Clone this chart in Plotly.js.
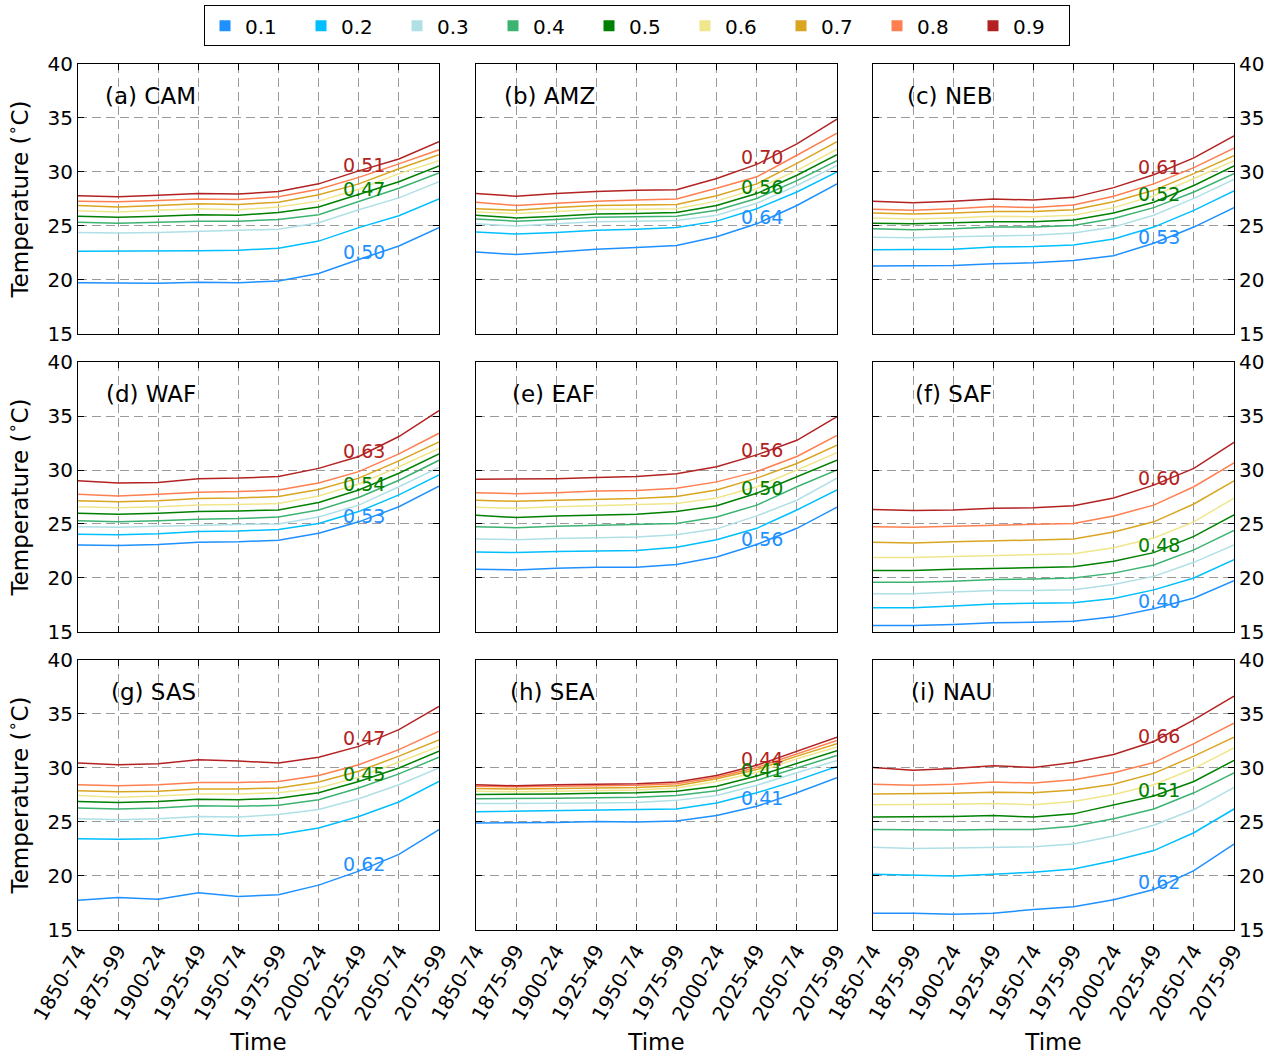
<!DOCTYPE html>
<html>
<head>
<meta charset="utf-8">
<script src="https://cdn.plot.ly/plotly-3.0.1.min.js"></script>
<style>html,body{margin:0;padding:0;background:#fff}#chart{width:1274px;height:1057px}</style>
</head>
<body>
<div id="chart"></div>
<script>
const categories = ['1850-74','1875-99','1900-24','1925-49','1950-74','1975-99','2000-24','2025-49','2050-74','2075-99'];
const quantiles = ['0.1','0.2','0.3','0.4','0.5','0.6','0.7','0.8','0.9'];
const colors = ['#1E90FF','#00BFFF','#B0E0E6','#3CB371','#008000','#F0E68C','#DAA520','#FF7F50','#B22222'];
const regions = ['CAM','AMZ','NEB','WAF','EAF','SAF','SAS','SEA','NAU'];
const panelTitles = ['(a) CAM','(b) AMZ','(c) NEB','(d) WAF','(e) EAF','(f) SAF','(g) SAS','(h) SEA','(i) NAU'];

// rows: quantile 0.1 ... 0.9
const CAM = [
  [19.75,19.75,19.7,19.8,19.75,19.9,20.6,21.9,23.15,24.85],
  [22.65,22.65,22.65,22.7,22.75,22.95,23.6,24.85,25.95,27.5],
  [24.4,24.35,24.4,24.5,24.55,24.7,25.3,26.5,27.6,29.1],
  [25.35,25.25,25.35,25.45,25.45,25.6,26.05,27.25,28.5,29.9],
  [25.9,25.8,25.9,26.05,26.0,26.25,26.75,27.9,29.1,30.55],
  [26.4,26.3,26.45,26.6,26.5,26.75,27.3,28.4,29.85,31.05],
  [26.9,26.75,26.9,27.05,27.0,27.2,27.9,28.9,30.3,31.6],
  [27.3,27.25,27.35,27.5,27.45,27.7,28.4,29.5,30.75,32.05],
  [27.8,27.7,27.85,28.0,27.95,28.2,28.9,30.1,31.2,32.8]
];
const AMZ = [
  [22.6,22.35,22.6,22.85,23.0,23.2,24.0,25.2,26.9,28.9],
  [24.45,24.25,24.4,24.6,24.7,24.85,25.45,26.6,28.15,30.0],
  [25.2,25.0,25.2,25.4,25.45,25.5,26.0,27.1,28.75,30.6],
  [25.65,25.45,25.6,25.8,25.85,25.9,26.45,27.55,29.2,31.05],
  [26.0,25.75,25.9,26.1,26.15,26.25,26.9,28.0,29.7,31.6],
  [26.3,26.15,26.35,26.55,26.55,26.6,27.3,28.45,30.15,32.1],
  [26.6,26.45,26.7,26.9,26.95,27.0,27.8,28.9,30.8,32.8],
  [27.2,26.9,27.1,27.3,27.4,27.5,28.5,29.55,31.55,33.6],
  [28.0,27.75,28.0,28.2,28.3,28.35,29.4,30.7,32.6,34.9]
];
const NEB = [
  [21.3,21.3,21.35,21.5,21.6,21.8,22.25,23.4,24.9,26.7],
  [22.8,22.8,22.85,23.05,23.1,23.25,23.8,24.9,26.45,28.25],
  [23.95,23.9,24.0,24.1,24.15,24.35,24.9,26.0,27.55,29.3],
  [24.75,24.65,24.75,24.9,24.9,25.05,25.7,26.7,28.15,29.85],
  [25.25,25.2,25.3,25.4,25.4,25.55,26.2,27.2,28.75,30.55],
  [25.75,25.65,25.75,25.9,25.85,26.0,26.7,27.8,29.4,31.05],
  [26.2,26.1,26.2,26.35,26.35,26.5,27.25,28.3,29.85,31.5],
  [26.55,26.45,26.6,26.8,26.7,26.95,27.75,28.9,30.4,32.2],
  [27.3,27.15,27.3,27.5,27.4,27.65,28.55,29.75,31.3,33.35]
];
const WAF = [
  [23.05,23.0,23.1,23.3,23.35,23.5,24.15,25.2,26.6,28.5],
  [24.05,24.0,24.1,24.3,24.35,24.5,25.05,26.15,27.7,29.55],
  [24.75,24.7,24.8,24.9,24.95,25.0,25.65,26.75,28.45,30.25],
  [25.3,25.2,25.3,25.45,25.5,25.65,26.3,27.45,29.05,30.9],
  [26.0,25.9,26.0,26.15,26.2,26.3,27.0,28.15,29.7,31.5],
  [26.6,26.5,26.6,26.75,26.8,26.9,27.6,28.7,30.3,32.0],
  [27.15,27.05,27.15,27.35,27.4,27.55,28.2,29.25,30.85,32.6],
  [27.75,27.6,27.75,27.95,28.0,28.15,28.8,29.85,31.5,33.4],
  [29.0,28.8,28.85,29.2,29.25,29.4,30.15,31.25,33.1,35.5]
];
const EAF = [
  [20.8,20.75,20.9,21.0,21.0,21.25,21.95,23.1,24.6,26.55],
  [22.4,22.35,22.45,22.5,22.55,22.85,23.55,24.6,26.3,28.15],
  [23.6,23.55,23.65,23.75,23.8,24.0,24.55,25.75,27.2,29.25],
  [24.75,24.65,24.8,24.9,24.95,25.05,25.65,26.75,28.45,30.0],
  [25.8,25.6,25.75,25.85,25.9,26.15,26.7,27.85,29.4,30.9],
  [26.55,26.45,26.6,26.7,26.75,26.9,27.4,28.45,30.0,31.6],
  [27.2,27.1,27.2,27.3,27.35,27.55,28.15,29.25,30.6,32.3],
  [27.9,27.8,27.9,28.05,28.1,28.3,28.9,29.85,31.25,33.2],
  [29.15,29.15,29.2,29.3,29.4,29.65,30.3,31.4,32.75,34.95]
];
const SAF = [
  [15.6,15.6,15.7,15.85,15.9,16.0,16.4,17.15,18.15,19.75],
  [17.25,17.25,17.4,17.6,17.65,17.7,18.1,18.9,20.0,21.7],
  [18.55,18.55,18.7,18.85,18.85,18.9,19.4,20.15,21.45,23.05],
  [19.6,19.6,19.7,19.85,19.9,20.0,20.45,21.2,22.6,24.4],
  [20.7,20.7,20.8,20.9,21.0,21.05,21.55,22.35,23.85,25.85],
  [21.9,21.9,22.0,22.1,22.2,22.25,22.8,23.7,25.2,27.4],
  [23.3,23.25,23.35,23.45,23.5,23.6,24.25,25.2,26.85,29.0],
  [24.75,24.7,24.8,24.9,24.95,25.05,25.75,26.75,28.45,30.65],
  [26.35,26.25,26.3,26.45,26.5,26.7,27.4,28.6,30.15,32.55]
];
const SAS = [
  [17.75,18.0,17.85,18.45,18.1,18.25,19.15,20.45,22.0,24.3],
  [23.45,23.4,23.45,23.9,23.7,23.85,24.45,25.5,26.85,28.75],
  [25.3,25.2,25.3,25.5,25.45,25.7,26.15,27.15,28.45,30.0],
  [26.3,26.2,26.3,26.5,26.45,26.55,27.05,28.15,29.45,31.0],
  [26.9,26.8,26.9,27.1,27.05,27.2,27.7,28.75,30.0,31.55],
  [27.45,27.3,27.4,27.6,27.6,27.7,28.15,29.15,30.55,32.0],
  [27.9,27.8,27.85,28.05,28.05,28.15,28.7,29.7,31.1,32.6],
  [28.45,28.35,28.45,28.65,28.65,28.75,29.3,30.3,31.7,33.4],
  [30.45,30.3,30.4,30.75,30.65,30.45,31.0,32.0,33.55,35.7]
];
const SEA = [
  [24.9,24.9,24.95,25.05,25.0,25.1,25.6,26.45,27.7,29.1],
  [25.95,26.0,26.05,26.1,26.1,26.2,26.75,27.7,28.85,30.15],
  [26.7,26.7,26.75,26.75,26.8,27.0,27.45,28.4,29.55,30.7],
  [27.15,27.15,27.2,27.25,27.3,27.45,27.9,28.85,30.0,31.15],
  [27.55,27.55,27.6,27.65,27.7,27.85,28.3,29.25,30.45,31.6],
  [27.85,27.8,27.85,27.9,27.95,28.15,28.75,29.6,30.85,31.95],
  [28.1,28.05,28.1,28.15,28.2,28.35,29.0,29.85,31.1,32.25],
  [28.3,28.25,28.3,28.35,28.4,28.55,29.15,30.05,31.3,32.55],
  [28.45,28.35,28.45,28.5,28.55,28.7,29.3,30.25,31.55,32.85]
];
const NAU = [
  [16.55,16.55,16.45,16.55,16.9,17.15,17.8,18.75,20.5,22.95],
  [20.15,20.05,20.0,20.15,20.35,20.65,21.4,22.35,24.0,26.2],
  [22.65,22.55,22.6,22.65,22.7,22.95,23.7,24.7,26.15,28.2],
  [24.3,24.25,24.25,24.3,24.3,24.6,25.3,26.2,27.7,29.55],
  [25.45,25.45,25.5,25.6,25.45,25.75,26.55,27.4,28.75,30.7],
  [26.6,26.6,26.65,26.7,26.6,26.9,27.55,28.45,29.95,31.85],
  [27.6,27.6,27.65,27.75,27.7,27.95,28.5,29.5,31.1,32.85],
  [28.5,28.4,28.5,28.7,28.6,28.9,29.55,30.5,32.25,34.15],
  [30.05,29.8,29.95,30.2,30.05,30.5,31.25,32.45,34.45,36.65]
];
const regionData = [CAM, AMZ, NEB, WAF, EAF, SAF, SAS, SEA, NAU];

// labelled numbers (0.1 / 0.5 / 0.9 quantile)
const blueLabels  = ['0.50','0.64','0.53','0.53','0.56','0.40','0.62','0.41','0.62'];
const greenLabels = ['0.47','0.56','0.52','0.54','0.50','0.48','0.45','0.41','0.51'];
const redLabels   = ['0.51','0.70','0.61','0.63','0.56','0.60','0.47','0.44','0.66'];

// layout positions (not data)
const blueLabelY  = [22.6, 25.8, 24.0, 25.75, 23.65, 17.85, 21.15, 27.25, 19.4];
const greenLabelY = [28.4, 28.6, 28.0, 28.7, 28.3, 23.1, 29.4, 29.85, 28.0];
const redLabelY   = [30.6, 31.4, 30.45, 31.75, 31.85, 29.25, 32.75, 30.85, 33.0];
const titleX = [0.62, 0.64, 0.8, 0.65, 0.85, 1.0, 0.78, 0.8, 0.9];
const colDomains = [[0.0612,0.3446],[0.3736,0.657],[0.6852,0.9686]];
const rowDomains = [[0.684,0.9395],[0.4021,0.6575],[0.1202,0.3756]];

const FONT = 'DejaVu Sans, Arial, sans-serif';
const traces = [];
const layout = {
  width: 1274, height: 1057,
  margin: {l:0, r:0, t:0, b:0},
  paper_bgcolor: '#fff', plot_bgcolor: '#fff',
  font: {family: FONT, color: '#000', size: 20},
  hovermode: false,
  showlegend: true,
  legend: {
    orientation: 'h', x: 0.5, xanchor: 'center', y: 0.995, yanchor: 'top',
    bordercolor: '#000', borderwidth: 1, font: {size: 20, family: FONT},
    entrywidth: 51, itemwidth: 30, tracegroupgap: 0,
    bgcolor: '#fff'
  },
  annotations: []
};

regionData.forEach((data, p) => {
  const row = Math.floor(p / 3), col = p % 3;
  const ax = p + 1;
  const xa = 'x' + ax, ya = 'y' + ax;
  data.forEach((vals, q) => {
    traces.push({
      type: 'scatter', mode: 'lines', x: categories, y: vals,
      xaxis: xa, yaxis: ya, name: quantiles[q], showlegend: false,
      line: {color: colors[q], width: 1.5}
    });
  });
  const common = {
    showline: true, linecolor: '#000', linewidth: 1, mirror: 'allticks',
    ticks: 'inside', ticklen: 6, tickcolor: '#000', tickwidth: 1,
    showgrid: true, gridcolor: '#9a9a9a', gridwidth: 1, griddash: '9px,5px',
    zeroline: false, fixedrange: true
  };
  const xaxis = Object.assign({}, common, {
    domain: colDomains[col], anchor: ya, type: 'category',
    categoryorder: 'array', categoryarray: categories,
    range: [0, categories.length - 1],
    tickangle: -60, tickfont: {size: 20},
    showticklabels: row === 2
  });
  if (row === 2) xaxis.title = {text: 'Time', font: {size: 23}, standoff: 10};
  layout['xaxis' + ax] = xaxis;
  const yaxis = Object.assign({}, common, {
    domain: rowDomains[row], anchor: xa,
    range: [15, 40], tickvals: [15, 20, 25, 30, 35, 40],
    side: col === 2 ? 'right' : 'left',
    showticklabels: col !== 1, tickfont: {size: 20}
  });
  if (col === 0) yaxis.title = {text: 'Temperature (<sup>∘</sup>C)', font: {size: 23}, standoff: 12};
  layout['yaxis' + ax] = yaxis;
  layout.annotations.push({
    xref: xa, yref: ya, x: titleX[p], y: 37, text: panelTitles[p],
    showarrow: false, xanchor: 'left', yanchor: 'middle', font: {size: 23, color: '#000'}
  });
  [[redLabels, redLabelY, colors[8]], [greenLabels, greenLabelY, colors[4]], [blueLabels, blueLabelY, colors[0]]].forEach(([labs, ys, c]) => {
    layout.annotations.push({
      xref: xa, yref: ya, x: 6.55, y: ys[p], text: labs[p],
      showarrow: false, xanchor: 'left', yanchor: 'middle', font: {size: 19, color: c}
    });
  });
});

// legend entries (square patches)
quantiles.forEach((q, i) => {
  traces.push({
    type: 'scatter', mode: 'markers', x: [null], y: [null], xaxis: 'x1', yaxis: 'y1',
    name: q, showlegend: true,
    marker: {symbol: 'square', size: 11, color: colors[i]}
  });
});

Plotly.newPlot('chart', traces, layout, {staticPlot: true, displayModeBar: false});
</script>
</body>
</html>
